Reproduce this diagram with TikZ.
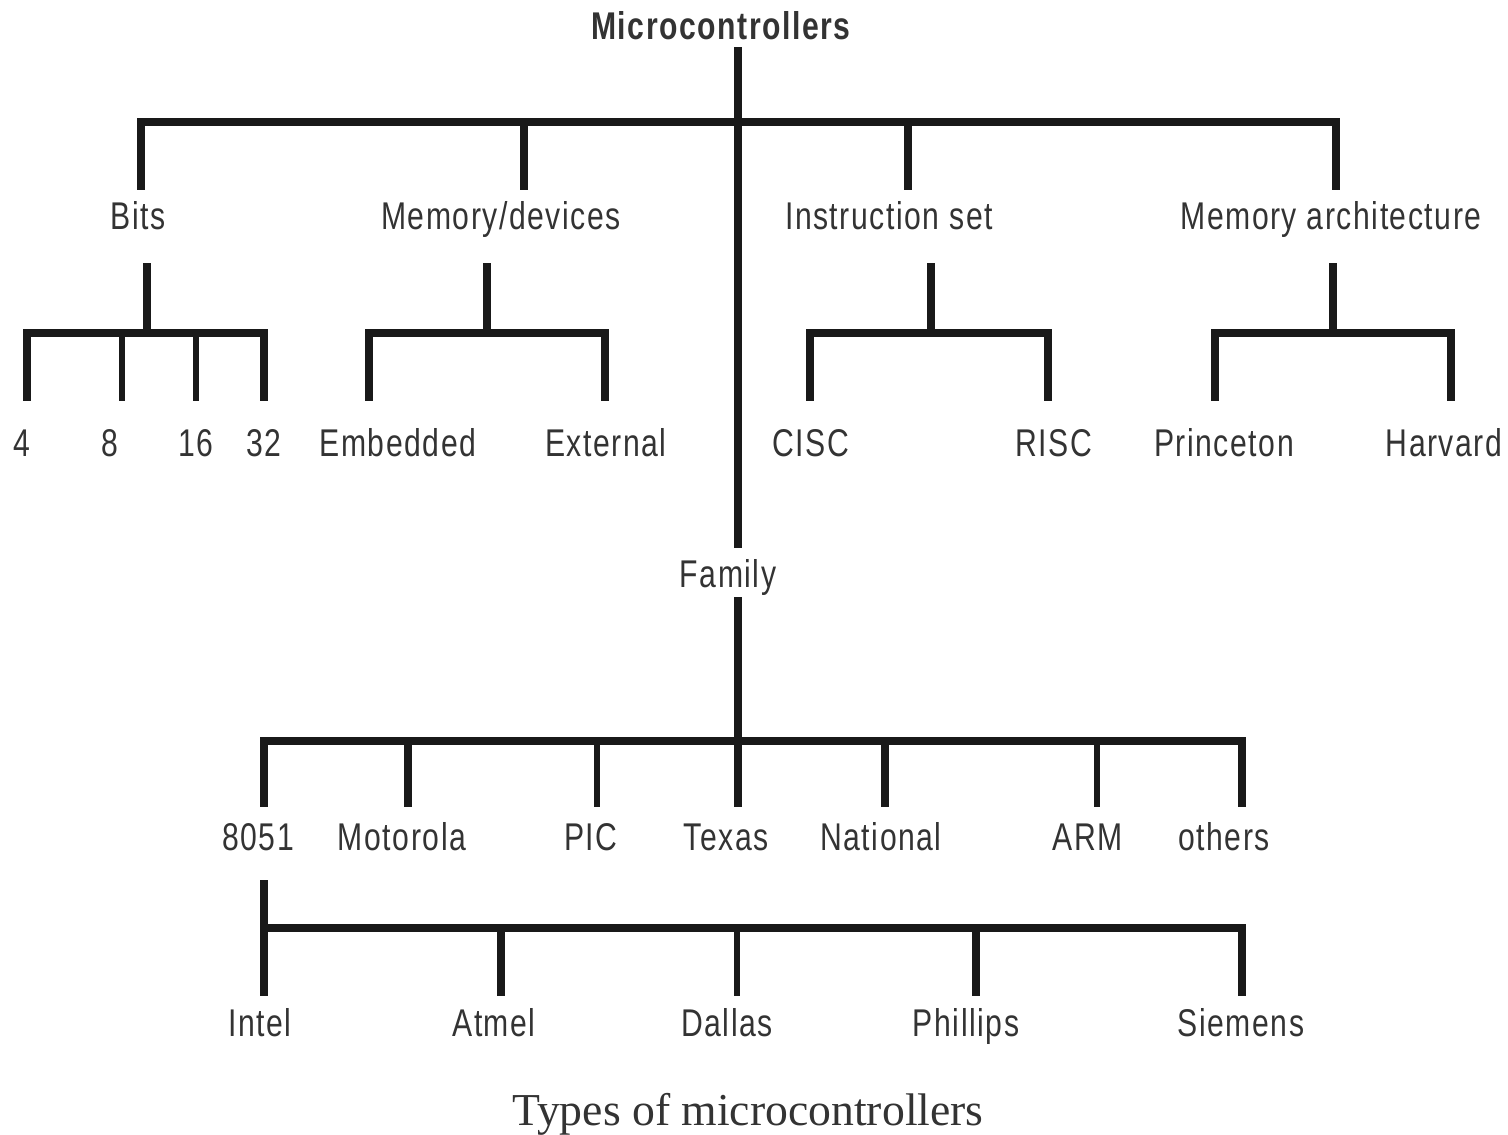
\documentclass[tikz,border=0pt]{standalone}
\usepackage{fontspec}
\setmainfont{Liberation Serif}
\newfontfamily\narrowsf[FakeStretch=0.78,LetterSpace=4]{Liberation Sans}
\usetikzlibrary{positioning,calc}

\begin{document}
\begin{tikzpicture}[x=0.02cm, y=-0.02cm,
    lbl/.style={anchor=base, inner sep=0pt, text=black!80, font=\narrowsf\fontsize{22}{26}\selectfont},
    head/.style={lbl, font=\narrowsf\bfseries\fontsize{22}{26}\selectfont, text depth=0.16cm},
    cat/.style={lbl, text height=0.78cm, text depth=0.68cm},
    leaf/.style={lbl, text height=1.1cm},
    fam/.style={lbl, text height=0.78cm, text depth=0.2cm},
    brand/.style={lbl, text height=0.86cm, text depth=0.6cm},
    maker/.style={lbl, text height=0.8cm},
    bar/.style={draw=black!90, line width=0.17cm},
    thin/.style={draw=black!90, line width=0.11cm}
]
\useasboundingbox (0,0) rectangle (1508,1134);

% Root
\node[head] (root) at (721,39) {Microcontrollers};

% First level
\node[cat] (bits) at (138,229) {Bits};
\node[cat] (memdev) at (501,229) {Memory/devices};
\node[cat] (instr) at (889,229) {Instruction set};
\node[cat] (arch) at (1331,229) {Memory architecture};

% Second level
\node[leaf] (b4) at (22,456) {4};
\node[leaf] (b8) at (110,456) {8};
\node[leaf] (b16) at (196,456) {16};
\node[leaf] (b32) at (264,456) {32};
\node[leaf] (embedded) at (398,456) {Embedded};
\node[leaf] (external) at (606,456) {External};
\node[leaf] (cisc) at (811,456) {CISC};
\node[leaf] (risc) at (1054,456) {RISC};
\node[leaf] (princeton) at (1224,456) {Princeton};
\node[leaf] (harvard) at (1444,456) {Harvard};

% Family
\node[fam] (family) at (728,587) {Family};

\node[brand] (c8051) at (258,850) {8051};
\node[brand] (motorola) at (402,850) {Motorola};
\node[brand] (pic) at (591,850) {PIC};
\node[brand] (texas) at (726,850) {Texas};
\node[brand] (national) at (881,850) {National};
\node[brand] (arm) at (1088,850) {ARM};
\node[brand] (others) at (1224,850) {others};

% 8051 makers
\node[maker] (intel) at (260,1036) {Intel};
\node[maker] (atmel) at (494,1036) {Atmel};
\node[maker] (dallas) at (727,1036) {Dallas};
\node[maker] (phillips) at (966,1036) {Phillips};
\node[maker] (siemens) at (1241,1036) {Siemens};

% Caption
\node[anchor=base, inner sep=0pt, text=black!80, font=\fontsize{26}{30}\selectfont] (caption) at (748,1125) {Types of microcontrollers};

% Junctions
\coordinate (jtop) at (738,122);
\coordinate (jbits) at (141,122);
\coordinate (jmem) at (524,122);
\coordinate (jinstr) at (908,122);
\coordinate (jarch) at (1336,122);

\coordinate (sbits) at (147,333);
\coordinate (j4) at (27,333);
\coordinate (j8) at (122,333);
\coordinate (j16) at (196,333);
\coordinate (j32) at (264,333);
\coordinate (smem) at (487,333);
\coordinate (jemb) at (369,333);
\coordinate (jext) at (605,333);
\coordinate (sinstr) at (931,333);
\coordinate (jcisc) at (810,333);
\coordinate (jrisc) at (1048,333);
\coordinate (sarch) at (1333,333);
\coordinate (jprin) at (1215,333);
\coordinate (jharv) at (1451,333);

\coordinate (jfam) at (738,741);
\coordinate (j8051) at (264,741);
\coordinate (jmoto) at (408,741);
\coordinate (jpic) at (597,741);
\coordinate (jnat) at (885,741);
\coordinate (jarm) at (1097,741);
\coordinate (jothers) at (1242,741);

\coordinate (jintel) at (264,928);
\coordinate (jatmel) at (501,928);
\coordinate (jdallas) at (737,928);
\coordinate (jphil) at (976,928);
\coordinate (jsiem) at (1242,928);

% Top level lines
\draw[bar] (root.south -| jtop) -- (family.north -| jtop);
\draw[bar] (bits.north -| jbits) -- (jbits) -- (jarch) -- (arch.north -| jarch);
\draw[bar] (jmem) -- (memdev.north -| jmem);
\draw[bar] (jinstr) -- (instr.north -| jinstr);

% Bits
\draw[bar] (bits.south -| sbits) -- (sbits);
\draw[bar] (b4.north -| j4) -- (j4) -- (j32) -- (b32.north -| j32);
\draw[thin] (j8) -- (b8.north -| j8);
\draw[thin] (j16) -- (b16.north -| j16);

% Memory/devices
\draw[bar] (memdev.south -| smem) -- (smem);
\draw[bar] (embedded.north -| jemb) -- (jemb) -- (jext) -- (external.north -| jext);

% Instruction set
\draw[bar] (instr.south -| sinstr) -- (sinstr);
\draw[bar] (cisc.north -| jcisc) -- (jcisc) -- (jrisc) -- (risc.north -| jrisc);

% Memory architecture
\draw[bar] (arch.south -| sarch) -- (sarch);
\draw[bar] (princeton.north -| jprin) -- (jprin) -- (jharv) -- (harvard.north -| jharv);

% Family
\draw[bar] (family.south -| jfam) -- (texas.north -| jfam);
\draw[bar] (c8051.north -| j8051) -- (j8051) -- (jothers) -- (others.north -| jothers);
\draw[bar] (jmoto) -- (motorola.north -| jmoto);
\draw[thin] (jpic) -- (pic.north -| jpic);
\draw[bar] (jnat) -- (national.north -| jnat);
\draw[thin] (jarm) -- (arm.north -| jarm);

% 8051
\draw[bar] (c8051.south -| jintel) -- (intel.north -| jintel);
\draw[bar] (jintel) -- (jsiem) -- (siemens.north -| jsiem);
\draw[bar] (jatmel) -- (atmel.north -| jatmel);
\draw[thin] (jdallas) -- (dallas.north -| jdallas);
\draw[bar] (jphil) -- (phillips.north -| jphil);
\end{tikzpicture}
\end{document}
